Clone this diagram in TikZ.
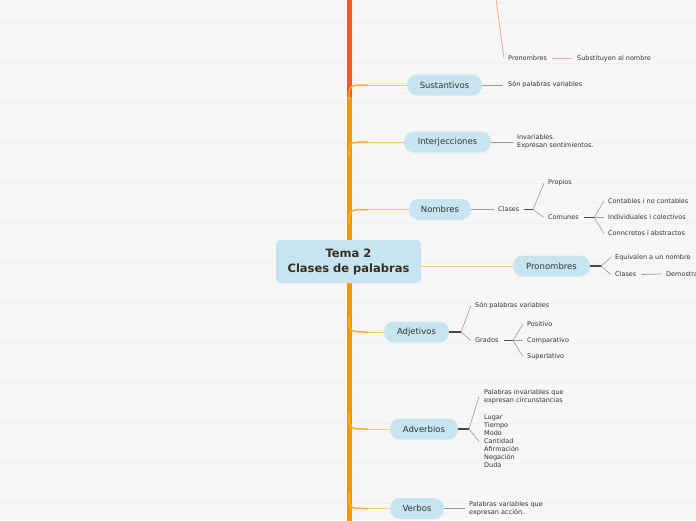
\documentclass[tikz,border=0pt]{standalone}
\usepackage{fontspec}
\setmainfont{DejaVu Sans}
\definecolor{bg}{HTML}{F7F7F7}
\definecolor{stripe}{HTML}{F1F1F1}
\definecolor{trunkO}{HTML}{FF9500}
\definecolor{trunkR}{HTML}{F05A28}
\definecolor{branchO}{HTML}{FFC878}
\definecolor{nodeB}{HTML}{C6E5F0}
\definecolor{txt}{HTML}{333333}
\definecolor{titlec}{HTML}{3B2A1E}
\definecolor{salmon}{HTML}{F6A591}
\definecolor{lgray}{HTML}{9A9A9A}
\definecolor{dgray}{HTML}{4A4A4A}
\tikzset{
  topic/.style={fill=nodeB, rounded corners=10pt, minimum height=21pt, inner sep=0pt,
    font=\fontsize{8.5}{10}\selectfont, text=txt},
  centre/.style={fill=nodeB, rounded corners=4pt, minimum width=145pt, minimum height=43pt,
    inner sep=0pt, align=center, font=\bfseries\fontsize{11.5}{15}\selectfont, text=titlec},
  leaf/.style={anchor=west, inner sep=0pt, align=left, font=\fontsize{6.5}{8}\selectfont, text=txt},
  thin/.style={draw=lgray, line width=0.7pt},
  stem/.style={draw=dgray, line width=1.1pt},
  fork/.style={draw=lgray, line width=0.6pt},
  curveb/.style={draw=trunkO!55!branchO, line width=1.5pt},
  horb/.style={draw=branchO, line width=1pt},
}
\begin{document}
\begin{tikzpicture}[x=1pt,y=-1pt]
\useasboundingbox (0,0) rectangle (696,520);
\fill[bg] (0,0) rectangle (696,520);
\foreach \i in {0,...,51} \draw[stripe, line width=0.8pt] (0,3.5+10*\i) -- (696,3.5+10*\i);

% trunk
\draw[trunkR, line width=5pt] (349,-2) -- (349,100);
\draw[trunkO, line width=5pt] (349,522) -- (349,97);

% topic nodes
\node[centre] (c) at (348.5,261.5) {Tema 2\\Clases de palabras};
\node[topic, minimum width=75pt] (sus) at (444.5,85) {Sustantivos};
\node[topic, minimum width=87pt] (int) at (447.5,142) {Interjecciones};
\node[topic, minimum width=62pt] (nom) at (440,209.5) {Nombres};
\node[topic, minimum width=77pt] (pro) at (551.5,266) {Pronombres};
\node[topic, minimum width=65pt] (adj) at (416.5,332) {Adjetivos};
\node[topic, minimum width=68pt] (adv) at (424,429) {Adverbios};
\node[topic, minimum width=54pt] (ver) at (417,508.5) {Verbos};

% branches from trunk
\foreach \n/\y in {sus/85,int/142,nom/209.5}{
  \draw[curveb] (349,\y+15) .. controls (349,\y) .. (368,\y);
  \draw[horb] (368,\y) -- (\n.west);
}
\foreach \n/\y in {adj/332,adv/429,ver/508.5}{
  \draw[curveb] (349,\y-15) .. controls (349,\y) .. (368,\y);
  \draw[horb] (368,\y) -- (\n.west);
}
\draw[horb] (c.east |- pro.west) -- (pro.west);

% top (off-screen parent)
\coordinate (topc) at (496,-1);
\node[leaf] (tp) at (508,58.5) {Pronombres};
\node[leaf] (tsub) at (577,58.5) {Substituyen al nombre};
\draw[salmon, line width=0.8pt] (topc) -- ([xshift=-4pt]tp.west);
\draw[salmon, line width=0.8pt] ([xshift=5pt]tp.east) -- ([xshift=-5pt]tsub.west);

% Sustantivos
\node[leaf] (sus1) at (508,85) {Són palabras variables};
\draw[thin] (sus.east) -- ([xshift=-5pt]sus1.west);

% Interjecciones
\node[leaf] (int1) at (517,142) {Invariables.\\Expresan sentimientos.};
\draw[thin] (int.east) -- ([xshift=-4pt]int1.west);

% Nombres
\node[leaf] (cla) at (498,209.5) {Clases};
\draw[thin] (nom.east) -- ([xshift=-4pt]cla.west);
\coordinate (f1) at (533,209.5);
\node[leaf] (prop) at (548,183) {Propios};
\node[leaf] (com) at (548,217.5) {Comunes};
\draw[stem] ([xshift=4pt]cla.east) -- (f1);
\draw[fork] (f1) -- ([xshift=-4pt]prop.west);
\draw[fork] (f1) -- ([xshift=-4pt]com.west);
\coordinate (f2) at (594,217.5);
\node[leaf] (c1) at (608,201) {Contables i no contables};
\node[leaf] (c2) at (608,217.5) {Individuales i colectivos};
\node[leaf] (c3) at (608,233.5) {Conncretos i abstractos};
\draw[stem] ([xshift=5pt]com.east) -- (f2);
\draw[fork] (f2) -- ([xshift=-4pt]c1.west);
\draw[fork] (f2) -- ([xshift=-4pt]c2.west);
\draw[fork] (f2) -- ([xshift=-4pt]c3.west);

% Pronombres
\coordinate (f3) at (601,266);
\node[leaf] (eq) at (615,257.5) {Equivalen a un nombre};
\node[leaf] (cl2) at (615,274.5) {Clases};
\draw[stem] (pro.east) -- (f3);
\draw[fork] (f3) -- ([xshift=-4pt]eq.west);
\draw[fork] (f3) -- ([xshift=-4pt]cl2.west);
\node[leaf] (dem) at (666,274) {Demostrativos};
\draw[thin] ([xshift=5pt]cl2.east) -- ([xshift=-5pt]dem.west);

% Adjetivos
\coordinate (f4) at (461,332);
\node[leaf] (adj1) at (475,305.5) {Són palabras variables};
\node[leaf] (gra) at (475,340.5) {Grados};
\draw[stem] (adj.east) -- (f4);
\draw[fork] (f4) -- ([xshift=-4pt]adj1.west);
\draw[fork] (f4) -- ([xshift=-4pt]gra.west);
\coordinate (f5) at (513,340.5);
\node[leaf] (g1) at (527,324) {Positivo};
\node[leaf] (g2) at (527,340.5) {Comparativo};
\node[leaf] (g3) at (527,356.5) {Superlativo};
\draw[stem] ([xshift=5pt]gra.east) -- (f5);
\draw[fork] (f5) -- ([xshift=-4pt]g1.west);
\draw[fork] (f5) -- ([xshift=-4pt]g2.west);
\draw[fork] (f5) -- ([xshift=-4pt]g3.west);

% Adverbios
\coordinate (f6) at (469,429);
\node[leaf] (av1) at (484,396.5) {Palabras invariables que\\expresan circunstancias};
\node[leaf] (av2) at (484,441.5) {Lugar\\Tiempo\\Modo\\Cantidad\\Afirmación\\Negación\\Duda};
\draw[stem] (adv.east) -- (f6);
\draw[fork] (f6) -- ([xshift=-5pt]av1.west);
\draw[fork] (f6) -- ([xshift=-5pt]av2.west);

% Verbos
\node[leaf] (ver1) at (469,508.5) {Palabras variables que\\expresan acción.};
\draw[thin] (ver.east) -- ([xshift=-4pt]ver1.west);
\end{tikzpicture}
\end{document}
